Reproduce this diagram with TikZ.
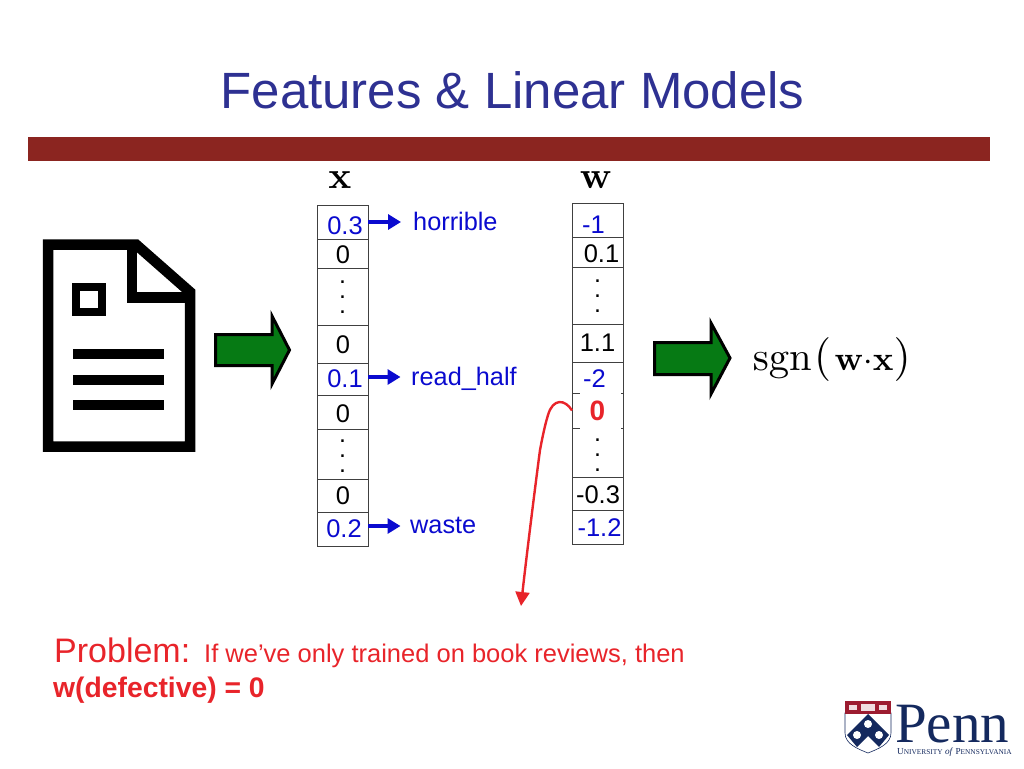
\documentclass[tikz,border=0pt]{standalone}
\usepackage{amsmath,amssymb}
\usepackage[no-math]{fontspec}
\setmainfont{Liberation Sans}
\newfontfamily\pennfont{Liberation Serif}
\usetikzlibrary{arrows.meta,positioning,calc}
\definecolor{titleblue}{HTML}{2E3192}
\definecolor{barred}{HTML}{8B2520}
\definecolor{fwdgreen}{HTML}{067A14}
\definecolor{featblue}{HTML}{0A0ACF}
\definecolor{probred}{HTML}{E8242A}
\definecolor{pennblue}{HTML}{14295E}
\definecolor{pennred}{HTML}{9C1C30}
\newcommand{\cellval}[3]{\makebox[0pt]{\kern#1\kern#1\raisebox{-#2}[\height][0pt]{#3}}}
\begin{document}
\begin{tikzpicture}[
      x=1pt, y=-1pt,
      node distance=0pt,
      cell/.style={rectangle, draw=black!75, line width=0.9pt, fill=white, outer sep=0pt, inner sep=0pt,
                   minimum width=51pt, font=\fontsize{25.5}{25.5}\selectfont, text=black},
      feat/.style={cell, text=featblue},
      dotcell/.style={cell, align=center, font=\fontsize{25}{15}\selectfont},
      featlabel/.style={font=\fontsize{25.3}{25.3}\selectfont, text=featblue, inner sep=0pt, anchor=base west},
      featarr/.style={-{Triangle[length=13pt,width=15pt]}, line width=3.2pt, color=featblue, shorten >=#1},
      bigarrow/.style={draw=black, line width=3pt, fill=fwdgreen, miter limit=10},
      docline/.style={draw=black, line width=10pt},
      tagmath/.style={inner sep=0pt, scale=3.8, transform shape}
    ]
      \useasboundingbox (0,0) rectangle (1024,768);
      \node[font=\fontsize{51}{51}\selectfont, text=titleblue] (title) at (512.5,90) {Features \& Linear Models};
      \fill[barred] (28,137) rectangle (990,161);

      % document icon
      \draw[black, line width=10.5pt, miter limit=10] (48,244.5) -- (136,244.5) -- (190,292) -- (190,446.5) -- (48,446.5) -- cycle;
      \draw[black, line width=10.5pt] (132,244.5) -- (132,297.5) -- (190,297.5);
      \draw[black, line width=8pt] (76,286.5) rectangle (102,311.5);
      \draw[docline] (73,354) -- (164,354);
      \draw[docline] (73,380) -- (164,380);
      \draw[docline] (73,405) -- (164,405);

      \draw[bigarrow] (215.5,334.5) -- (272,334.5) -- (272,316) -- (289.5,350) -- (272,384) -- (272,365.5) -- (215.5,365.5) -- cycle;
      \draw[bigarrow] (654.5,342.5) -- (711,342.5) -- (711,323) -- (730,358) -- (711,394) -- (711,374.5) -- (654.5,374.5) -- cycle;

      % x column
      \node[tagmath] (xtag) at (340,180) {$\mathbf{x}$};
      \node[feat, minimum height=34pt, anchor=north] (xa) at (342.5,205) {\cellval{2.5pt}{4pt}{0.3}};
      \node[cell, minimum height=29pt, below=of xa] (xb) {\cellval{0.5pt}{1.5pt}{0}};
      \node[dotcell, minimum height=57pt, below=of xb] (xc) {\rule{0pt}{4pt}.\\.\\.};
      \node[cell, minimum height=38pt, below=of xc] (xd) {\cellval{0.5pt}{1pt}{0}};
      \node[feat, minimum height=32pt, below=of xd] (xe) {\cellval{2.5pt}{0pt}{0.1}};
      \node[cell, minimum height=34pt, below=of xe] (xf) {\cellval{0.5pt}{2pt}{0}};
      \node[dotcell, minimum height=50pt, below=of xf] (xg) {\rule{0pt}{6pt}.\\.\\.};
      \node[cell, minimum height=33pt, below=of xg] (xh) {\cellval{0.5pt}{0pt}{0}};
      \node[feat, minimum height=34pt, below=of xh] (xi) {\cellval{1.5pt}{0pt}{0.2}};

      % w column
      \node[tagmath] (wtag) at (596,180) {$\mathbf{w}$};
      \node[feat, minimum height=34pt, anchor=north] (wa) at (597.5,203) {\cellval{-4pt}{5pt}{-1}};
      \node[cell, minimum height=30pt, below=of wa] (wb) {\cellval{4pt}{2pt}{0.1}};
      \node[dotcell, minimum height=57pt, below=of wb] (wc) {\rule{0pt}{4pt}.\\.\\.};
      \node[cell, minimum height=38pt, below=of wc] (wd) {1.1};
      \node[feat, minimum height=31pt, below=of wd] (we) {\cellval{-3pt}{1pt}{-2}};
      \node[cell, minimum height=35pt, below=of we] (wf) {\textcolor{probred}{\fontsize{28}{28}\selectfont\textbf{0}}};
      \node[dotcell, minimum height=49pt, below=of wf] (wg) {\rule{0pt}{7pt}.\\.\\.};
      \node[cell, minimum height=33pt, below=of wg] (wh) {\cellval{0.5pt}{1.5pt}{-0.3}};
      \node[feat, minimum height=34pt, below=of wh] (wi) {\cellval{2pt}{1pt}{-1.2}};
      % broken borders around the zero
      \fill[white] ([xshift=8pt,yshift=1.5pt]wf.north west) rectangle ([xshift=-2pt,yshift=-1.5pt]wf.north east);
      \fill[white] ([xshift=8pt,yshift=1.5pt]wf.south west) rectangle ([xshift=-2pt,yshift=-1.5pt]wf.south east);

      % feature names
      \node[featlabel] (horrible) at (413,230) {horrible};
      \node[featlabel] (readhalf) at (411,385) {read\_half};
      \node[featlabel] (waste) at (410,533) {waste};
      \draw[featarr=12pt] (xa.east) -- (xa.east -| horrible.west);
      \draw[featarr=10.5pt] ([yshift=2pt]xe.east) -- ([yshift=2pt]xe.east -| readhalf.west);
      \draw[featarr=9.5pt] ([yshift=3pt]xi.east) -- ([yshift=3pt]xi.east -| waste.west);

      \node[tagmath, scale=1.07, anchor=base west] (sgn) at (752,370) {$\mathrm{sgn}\mkern1mu\scalebox{1.08}{$($}\mkern1.5mu\scalebox{.84}{$\mathbf{w}{\cdot}\mathbf{x}$}\scalebox{1.08}{$)$}$};

      % curved pointer
      \coordinate (probtip) at (521,606);
      \draw[-{Triangle[length=14pt,width=14pt]}, line width=2.4pt, probred] (wf.west) .. controls (565,399) and (553,398) .. (548,415) .. controls (544,428) and (541,445) .. (540,450) .. controls (536,480) and (526,560) .. (probtip);

      % problem text
      \node[inner sep=0pt, anchor=base west, text=probred, font=\fontsize{34}{34}\selectfont] (prob) at (54,662) {Problem:};
      \node[inner sep=0pt, anchor=base west, text=probred, font=\fontsize{25.5}{25.5}\selectfont] (probtext) at (204,662) {If we’ve only trained on book reviews, then};
      \node[inner sep=0pt, anchor=base west, text=probred, font=\bfseries\fontsize{28.3}{28.3}\selectfont] (probw) at (53,697) {w(defective) = 0};

      % university mark
      \filldraw[fill=white, draw=pennblue, line width=0.6pt] (845,713) -- (891,713) -- (891,733) .. controls (891,744) and (878,749) .. (868,753) .. controls (858,749) and (845,744) .. (845,733) -- cycle;
      \fill[pennred] (845,701) rectangle (891,714);
      \fill[pennred!15] (849,705) rectangle (857,710);
      \fill[pennred!15] (879,705) rectangle (887,710);
      \fill[pennred!15] (861,704) rectangle (875,711);
      \fill[pennblue] (868,714) -- (889,735) -- (879,747) -- (868,736) -- (857,747) -- (847,735) -- cycle;
      \foreach \cx/\cy in {868/724, 857/735, 879/735} \fill[white] (\cx,\cy) circle (4pt);
      \node[inner sep=0pt, anchor=base west, text=pennblue, text depth=0pt, font=\pennfont\fontsize{57}{57}\selectfont] (penn) at (895,742) {Penn};
      \node[inner sep=0pt, anchor=base west, text=pennblue, font=\pennfont\fontsize{9.2}{10}\selectfont] (pennsub) at (897,754) {U\scalebox{.8}{NIVERSITY} \textit{of} P\scalebox{.8}{ENNSYLVANIA}};
    \end{tikzpicture}
\end{document}
